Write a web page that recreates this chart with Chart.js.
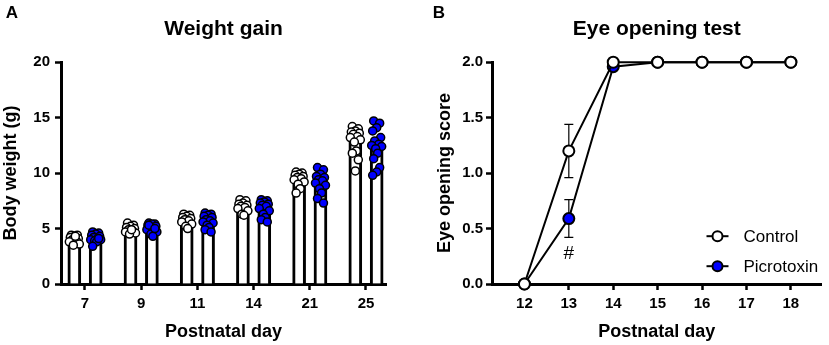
<!DOCTYPE html>
<html>
<head>
<meta charset="utf-8">
<script src="https://cdn.jsdelivr.net/npm/chart.js@4.4.0/dist/chart.umd.min.js"></script>
<style>
  html, body { margin: 0; padding: 0; background: #fff; }
  #wrap { position: relative; width: 829px; height: 345px; overflow: hidden; }
  .panel { position: absolute; top: 0; height: 345px; }
</style>
</head>
<body>
<div id="wrap">
  <div class="panel" style="left:0;width:415px"><canvas id="weightChart" width="415" height="345"></canvas></div>
  <div class="panel" style="left:414px;width:415px"><canvas id="eyeChart" width="415" height="345"></canvas></div>
</div>
<script>
// ---- Panel A: weight gain (g) ----
const weightDays = ['7', '9', '11', '14', '21', '25'];
const controlWeightMean = [4.0, 4.9, 5.8, 7.0, 9.5, 13.0];
const picroWeightMean = [4.1, 5.0, 5.6, 6.9, 9.2, 12.5];
const controlWeightPoints = [
    [4.4, 4.4, 4.3, 4.2, 4.1, 4.0, 3.9, 3.8, 3.6, 3.5, 4.3],
    [5.5, 5.3, 5.2, 5.1, 5.0, 4.9, 4.8, 4.7, 4.6, 4.5, 4.9],
    [6.3, 6.2, 6.1, 6.0, 5.9, 5.8, 5.7, 5.6, 5.4, 5.2, 5.0],
    [7.6, 7.5, 7.3, 7.2, 7.1, 7.0, 6.9, 6.8, 6.6, 6.3, 6.2],
    [10.1, 10.0, 9.9, 9.8, 9.7, 9.6, 9.5, 9.4, 9.2, 9.0, 8.6, 8.2],
    [14.2, 14.0, 13.8, 13.7, 13.6, 13.5, 13.3, 13.2, 13.0, 12.8, 12.0, 11.8, 11.2, 10.2]
];
const picroWeightPoints = [
    [4.7, 4.6, 4.5, 4.4, 4.3, 4.2, 4.1, 4.0, 4.0, 3.9, 3.8, 3.4, 4.1],
    [5.5, 5.4, 5.4, 5.3, 5.2, 5.1, 5.0, 4.9, 4.7, 4.5, 4.3, 5.3, 5.0],
    [6.4, 6.3, 6.2, 6.1, 6.0, 5.8, 5.7, 5.6, 5.5, 5.3, 5.1, 4.9, 4.7],
    [7.6, 7.5, 7.4, 7.3, 7.2, 7.1, 7.0, 6.8, 6.6, 6.3, 6.0, 5.8, 5.6],
    [10.5, 10.3, 9.9, 9.7, 9.6, 9.4, 9.3, 9.1, 8.9, 8.6, 8.2, 7.7, 7.3],
    [14.7, 14.5, 14.1, 13.8, 13.2, 12.9, 12.6, 12.5, 12.4, 12.2, 11.8, 11.3, 10.5, 10.1, 9.8]
];

// ---- Panel B: eye opening score ----
const eyeDays = [12, 13, 14, 15, 16, 17, 18];
const controlEyeScore = [0, 1.2, 2, 2, 2, 2, 2];
const controlEyeSem = [0, 0.24, 0, 0, 0, 0, 0];
const picroEyeScore = [0, 0.59, 1.96, 2, 2, 2, 2];
const picroEyeSem = [0, 0.17, 0.03, 0, 0, 0, 0];

const BLUE = '#0000ff';
const FONT = '"Liberation Sans", Arial, Helvetica, sans-serif';
Chart.defaults.font.family = FONT;
Chart.defaults.color = '#000';

// small horizontal spread of the dots (pixels), just for looks
const dotJitterPx = [-3, 3, 0, -4, 4, -2, 2, -5, 5, -1, 1, -3, 3, 0, -4];
const pxPerCat = 56.2;
const barShift = 0.19;

function dotData(groups, side) {
    const out = [];
    groups.forEach((vals, i) => {
        vals.forEach((v, k) => {
            out.push({ x: i + side * barShift + dotJitterPx[k % dotJitterPx.length] / pxPerCat, y: v });
        });
    });
    return out;
}

function letterPlugin(text, x, y) {
    return {
        id: 'panelLetter' + text,
        afterDraw(chart) {
            const ctx = chart.ctx;
            ctx.save();
            ctx.font = 'bold 17px ' + FONT;
            ctx.fillStyle = '#000';
            ctx.textAlign = 'center';
            ctx.textBaseline = 'middle';
            ctx.fillText(text, x, y);
            ctx.restore();
        }
    };
}

function axisGrid() {
    return { display: true, drawOnChartArea: false, drawTicks: true, tickLength: 6, tickWidth: 2.5, tickColor: '#000', offset: false };
}
const axisBorder = { display: true, width: 3, color: '#000' };
const tickFont = { size: 15, weight: 'bold' };
const axisTitleFont = { size: 18, weight: 'bold' };
const titleFont = { size: 21, weight: 'bold' };

// ---------------- Weight gain ----------------
new Chart(document.getElementById('weightChart'), {
    type: 'bar',
    data: {
        datasets: [
            { type: 'scatter', label: 'Control', data: dotData(controlWeightPoints, -1), pointRadius: 4, pointBorderWidth: 1.5, pointBackgroundColor: '#fff', pointBorderColor: '#000', order: 0, clip: false },
            { type: 'scatter', label: 'Picrotoxin', data: dotData(picroWeightPoints, 1), pointRadius: 4, pointBorderWidth: 1.5, pointBackgroundColor: BLUE, pointBorderColor: '#000', order: 0, clip: false },
            { type: 'bar', label: 'Control mean', data: controlWeightMean.map((m, i) => ({ x: i - barShift, y: m })), backgroundColor: '#fff', borderColor: '#000', borderWidth: 3, barThickness: 13, grouped: false, order: 2 },
            { type: 'bar', label: 'Picrotoxin mean', data: picroWeightMean.map((m, i) => ({ x: i + barShift, y: m })), backgroundColor: '#fff', borderColor: '#000', borderWidth: 3, barThickness: 13, grouped: false, order: 2 }
        ]
    },
    options: {
        responsive: false, animation: false,
        layout: { padding: { left: 0, right: 29, top: 0, bottom: 0 } },
        plugins: {
            legend: { display: false }, tooltip: { enabled: false },
            title: { display: true, text: 'Weight gain', fullSize: false, font: titleFont, color: '#000', padding: { top: 17, bottom: 20 } }
        },
        scales: {
            x: {
                type: 'linear', min: -0.427, max: 5.356, offset: false,
                afterBuildTicks: s => { s.ticks = weightDays.map((d, i) => ({ value: i })); },
                afterFit: s => { s.height = 61; },
                ticks: { callback: v => weightDays[v], font: tickFont, color: '#000', padding: 5, maxRotation: 0, autoSkip: false },
                grid: axisGrid(), border: axisBorder,
                title: { display: true, text: 'Postnatal day', font: axisTitleFont, color: '#000', padding: { top: 0, bottom: 2 } }
            },
            y: {
                min: 0, max: 20,
                afterFit: s => { s.width = 61; },
                ticks: { stepSize: 5, font: tickFont, color: '#000', padding: 5 },
                grid: axisGrid(), border: axisBorder,
                title: { display: true, text: 'Body weight (g)', font: axisTitleFont, color: '#000', padding: { top: 0, bottom: 0 } }
            }
        }
    },
    plugins: [letterPlugin('A', 12, 13)]
});

// ---------------- Eye opening test ----------------
const eyeExtras = {
    id: 'eyeExtras',
    beforeDatasetsDraw(chart) {
        const { ctx, scales: { x, y } } = chart;
        ctx.save();
        ctx.strokeStyle = '#000';
        ctx.lineWidth = 1.2;
        [[controlEyeScore, controlEyeSem], [picroEyeScore, picroEyeSem]].forEach(([vals, sems]) => {
            vals.forEach((v, i) => {
                if (!sems[i]) return;
                const px = x.getPixelForValue(eyeDays[i]);
                const top = y.getPixelForValue(v + sems[i]);
                const bot = y.getPixelForValue(v - sems[i]);
                ctx.beginPath();
                ctx.moveTo(px, top); ctx.lineTo(px, bot);
                ctx.moveTo(px - 4.5, top); ctx.lineTo(px + 4.5, top);
                ctx.moveTo(px - 4.5, bot); ctx.lineTo(px + 4.5, bot);
                ctx.stroke();
            });
        });
        ctx.restore();
    },
    afterDraw(chart) {
        const { ctx, chartArea, scales: { x, y } } = chart;
        ctx.save();
        // significance mark under Picrotoxin at day 13
        ctx.font = '19px ' + FONT;
        ctx.fillStyle = '#000';
        ctx.textAlign = 'center';
        ctx.textBaseline = 'middle';
        ctx.fillText('#', x.getPixelForValue(13), y.getPixelForValue(picroEyeScore[1] - picroEyeSem[1]) + 16);

        // legend
        const items = chart.data.datasets.map(ds => ({ label: ds.label, fill: ds.pointBackgroundColor }));
        const mx = chartArea.right - 104;
        items.forEach((it, k) => {
            const my = chartArea.top + 174 + k * 30;
            ctx.strokeStyle = '#000';
            ctx.lineWidth = 2;
            ctx.beginPath();
            ctx.moveTo(mx - 11, my); ctx.lineTo(mx + 11, my);
            ctx.stroke();
            ctx.beginPath();
            ctx.arc(mx, my, 5, 0, Math.PI * 2);
            ctx.fillStyle = it.fill;
            ctx.fill();
            ctx.stroke();
            ctx.fillStyle = '#000';
            ctx.font = '17px ' + FONT;
            ctx.textAlign = 'left';
            ctx.fillText(it.label, mx + 26, my + 1);
        });
        ctx.restore();
    }
};

new Chart(document.getElementById('eyeChart'), {
    type: 'line',
    data: {
        datasets: [
            { label: 'Control', data: eyeDays.map((d, i) => ({ x: d, y: controlEyeScore[i] })), borderColor: '#000', borderWidth: 2, pointRadius: 5.5, pointBorderWidth: 2, pointBackgroundColor: '#fff', pointBorderColor: '#000', tension: 0, clip: false, order: 0 },
            { label: 'Picrotoxin', data: eyeDays.map((d, i) => ({ x: d, y: picroEyeScore[i] })), borderColor: '#000', borderWidth: 2, pointRadius: 5.5, pointBorderWidth: 2, pointBackgroundColor: BLUE, pointBorderColor: '#000', tension: 0, clip: false, order: 1 }
        ]
    },
    options: {
        responsive: false, animation: false,
        layout: { padding: { left: 0, right: 3, top: 0, bottom: 0 } },
        plugins: {
            legend: { display: false }, tooltip: { enabled: false },
            title: { display: true, text: 'Eye opening test', fullSize: false, font: titleFont, color: '#000', padding: { top: 17, bottom: 20 } }
        },
        scales: {
            x: {
                type: 'linear', min: 11.27, max: 18.69, offset: false,
                afterBuildTicks: s => { s.ticks = eyeDays.map(d => ({ value: d })); },
                afterFit: s => { s.height = 61; },
                ticks: { font: tickFont, color: '#000', padding: 5, maxRotation: 0, autoSkip: false },
                grid: axisGrid(), border: axisBorder,
                title: { display: true, text: 'Postnatal day', font: axisTitleFont, color: '#000', padding: { top: 0, bottom: 2 } }
            },
            y: {
                min: 0, max: 2,
                afterFit: s => { s.width = 78; },
                ticks: { stepSize: 0.5, callback: v => v.toFixed(1), font: tickFont, color: '#000', padding: 3 },
                grid: axisGrid(), border: axisBorder,
                title: { display: true, text: 'Eye opening score', font: axisTitleFont, color: '#000', padding: { top: 20, bottom: 0 } }
            }
        }
    },
    plugins: [eyeExtras, letterPlugin('B', 25, 13)]
});
</script>
</body>
</html>
